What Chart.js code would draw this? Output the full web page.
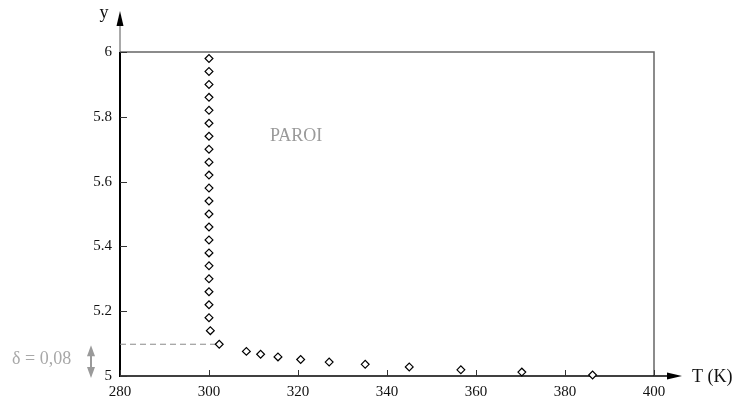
<!DOCTYPE html>
<html><head><meta charset="utf-8">
<script src="https://cdn.jsdelivr.net/npm/chart.js@4/dist/chart.umd.min.js"></script>
<style>html,body{margin:0;padding:0;background:#fff;}canvas{display:block;}</style>
</head><body>
<canvas id="c" width="733" height="398"></canvas>
<script>
// ---- data ----
const wallT = [300,300,300,300,300,300,300,300,300,300,300,300,300,300,300,300,300,300,300,300,300,300.3];
const wallY = [5.98,5.94,5.90,5.86,5.82,5.78,5.74,5.70,5.66,5.62,5.58,5.54,5.50,5.46,5.42,5.38,5.34,5.30,5.26,5.22,5.18,5.14];
const fluidT = [302.3,308.4,311.6,315.5,320.6,327.0,335.1,345.0,356.6,370.3,386.2];
const fluidY = [5.098,5.076,5.067,5.059,5.051,5.043,5.036,5.028,5.019,5.012,5.003];
const xTicks = [280,300,320,340,360,380,400];
const yTicks = [5,5.2,5.4,5.6,5.8,6];
const deltaX = [280,302.3];
const deltaY = [5.098,5.098];
const labels = {xAxis:'T (K)', yAxis:'y', wall:'PAROI', delta:'δ = 0,08'};

const pts = wallT.map((t,i)=>({x:t,y:wallY[i]})).concat(fluidT.map((t,i)=>({x:t,y:fluidY[i]})));
const dash = deltaX.map((t,i)=>({x:t,y:deltaY[i]}));
const FONT = 'Liberation Serif, Times New Roman, serif';

const annot = {
  id:'annot',
  beforeDatasetsDraw(chart){
    const {ctx, chartArea:a, scales:{x,y}} = chart;
    ctx.save();
    ctx.strokeStyle='#666'; ctx.lineWidth=1.5;
    ctx.beginPath(); ctx.moveTo(a.left,a.top); ctx.lineTo(a.right,a.top); ctx.lineTo(a.right,a.bottom); ctx.stroke();
    ctx.strokeStyle='#555'; ctx.lineWidth=1;
    ctx.beginPath(); ctx.moveTo(a.left,a.top); ctx.lineTo(a.left,24); ctx.stroke();
    ctx.fillStyle='#000';
    ctx.beginPath(); ctx.moveTo(a.left,11); ctx.lineTo(a.left-3.5,26); ctx.lineTo(a.left+3.5,26); ctx.closePath(); ctx.fill();
    ctx.strokeStyle='#000'; ctx.lineWidth=2;
    ctx.beginPath(); ctx.moveTo(a.left,a.top); ctx.lineTo(a.left,a.bottom+1); ctx.stroke();
    ctx.lineWidth=1.5;
    ctx.beginPath(); ctx.moveTo(a.left,a.bottom); ctx.lineTo(a.right+16,a.bottom); ctx.stroke();
    ctx.beginPath(); ctx.moveTo(a.right+28,a.bottom); ctx.lineTo(a.right+13,a.bottom-3.5); ctx.lineTo(a.right+13,a.bottom+3.5); ctx.closePath(); ctx.fill();
    ctx.strokeStyle='#333'; ctx.lineWidth=1;
    y.ticks.forEach(t=>{ const py=Math.round(y.getPixelForValue(t.value))+0.5; ctx.beginPath(); ctx.moveTo(a.left,py); ctx.lineTo(a.left+7,py); ctx.stroke(); });
    x.ticks.forEach(t=>{ const px=Math.round(x.getPixelForValue(t.value))+0.5; ctx.beginPath(); ctx.moveTo(px,a.bottom); ctx.lineTo(px,a.bottom-6); ctx.stroke(); });
    ctx.restore();
  },
  afterDraw(chart){
    const {ctx, chartArea:a, scales:{x,y}} = chart;
    ctx.save();
    ctx.textBaseline='middle';
    ctx.font='18px '+FONT; ctx.fillStyle='#111';
    ctx.textAlign='center'; ctx.fillText(labels.yAxis, a.left-16, 13);
    ctx.textAlign='left'; ctx.fillText(labels.xAxis, a.right+38, a.bottom+1);
    ctx.fillStyle='#9a9a9a';
    ctx.fillText(labels.wall, 270, 136);
    ctx.fillStyle='#a8a8a8';
    ctx.fillText(labels.delta, 12, 359);
    const ax=91, y1=y.getPixelForValue(deltaY[0])+1, y2=y.getPixelForValue(5)+2;
    ctx.fillStyle='#9a9a9a'; ctx.strokeStyle='#9a9a9a'; ctx.lineWidth=2;
    ctx.beginPath(); ctx.moveTo(ax,y1+6); ctx.lineTo(ax,y2-6); ctx.stroke();
    ctx.beginPath(); ctx.moveTo(ax,y1); ctx.lineTo(ax-4,y1+11); ctx.lineTo(ax+4,y1+11); ctx.closePath(); ctx.fill();
    ctx.beginPath(); ctx.moveTo(ax,y2); ctx.lineTo(ax-4,y2-11); ctx.lineTo(ax+4,y2-11); ctx.closePath(); ctx.fill();
    ctx.restore();
  }
};

const setTicks = arr => s => { s.ticks = arr.map(v=>({value:v})); };

new Chart(document.getElementById('c'), {
  type:'scatter',
  data:{datasets:[
    {data:pts, pointStyle:'rectRot', pointRadius:3.9, pointHoverRadius:3.9, backgroundColor:'#fff', borderColor:'#000', borderWidth:1.2, showLine:false, clip:false},
    {data:dash, showLine:true, borderColor:'#8a8a8a', borderWidth:1, borderDash:[6,4], pointRadius:0, fill:false, clip:false}
  ]},
  options:{
    responsive:false, animation:false, events:[],
    plugins:{legend:{display:false}, tooltip:{enabled:false}},
    layout:{padding:{top:52,right:79,left:0,bottom:0}},
    scales:{
      x:{type:'linear', min:280, max:400, afterBuildTicks:setTicks(xTicks), afterFit:s=>{s.height=22;},
         grid:{display:false, drawTicks:false}, border:{display:false},
         ticks:{padding:7, color:'#111', maxRotation:0, autoSkip:false, font:{family:FONT, size:15}, callback:v=>String(v)}},
      y:{type:'linear', min:5, max:6, afterBuildTicks:setTicks(yTicks), afterFit:s=>{s.width=120;},
         grid:{display:false, drawTicks:false}, border:{display:false},
         ticks:{padding:8, color:'#111', autoSkip:false, font:{family:FONT, size:15}, callback:v=>String(v)}}
    }
  },
  plugins:[annot]
});
</script>
</body></html>
